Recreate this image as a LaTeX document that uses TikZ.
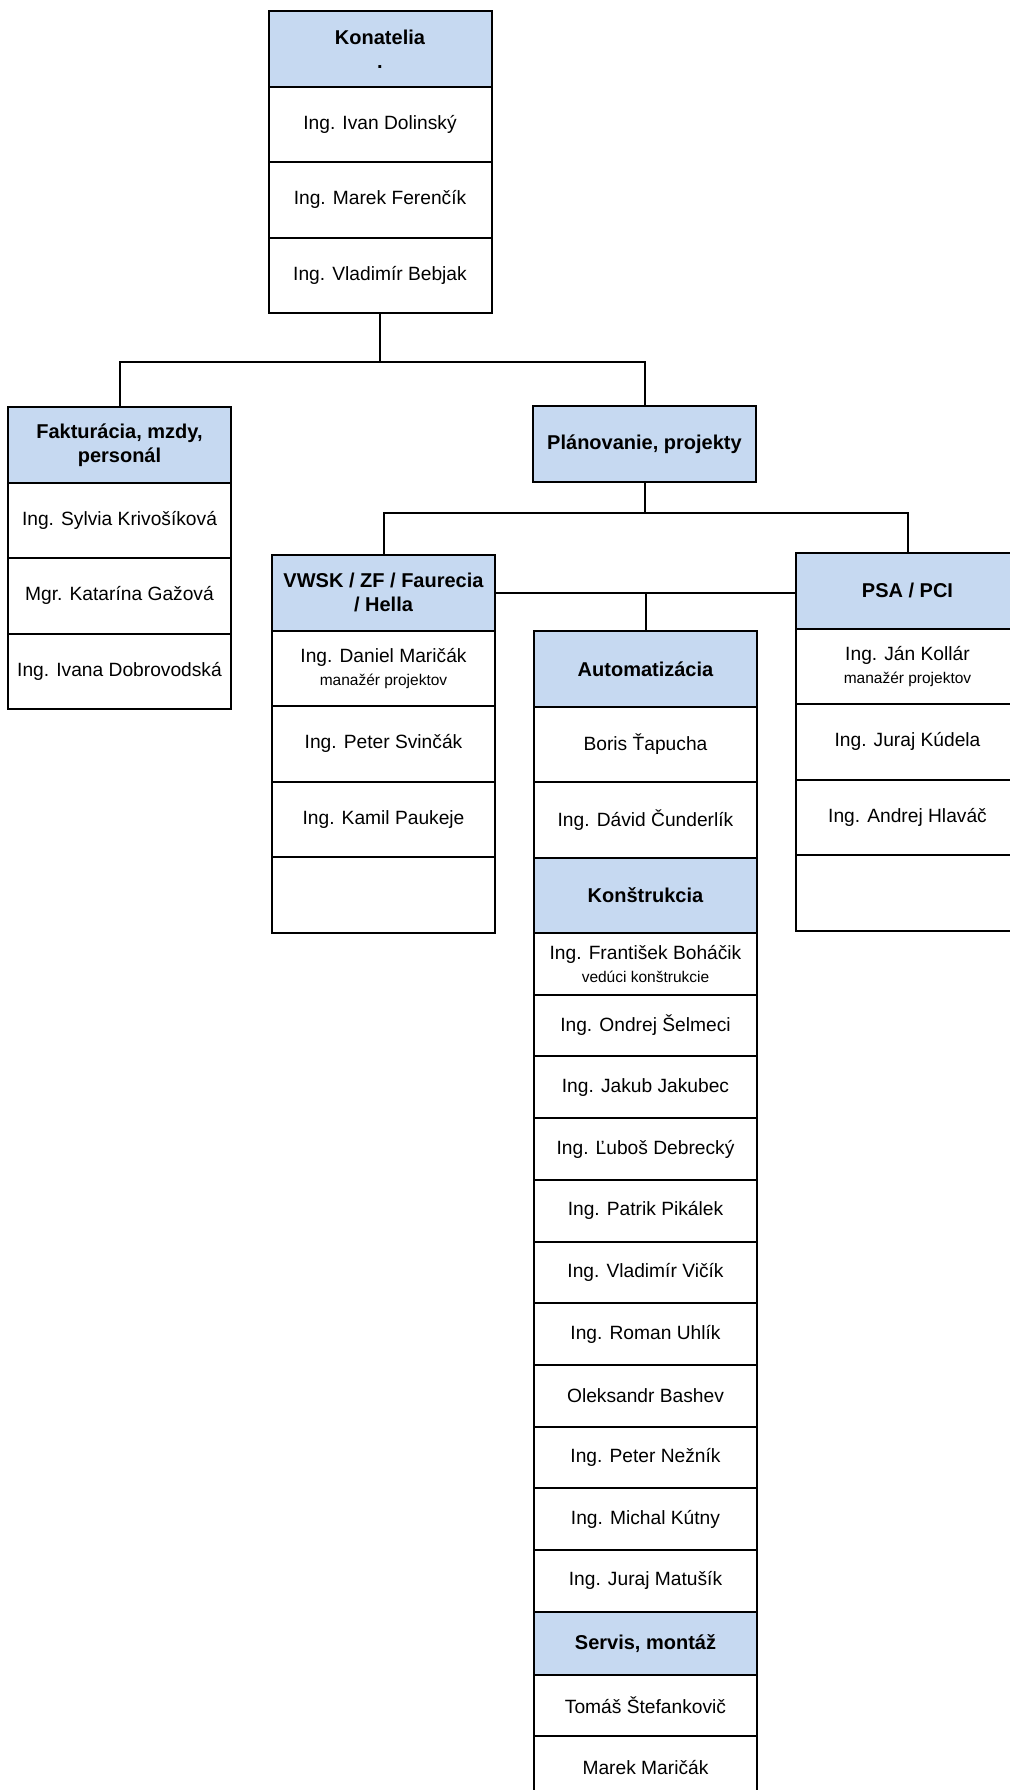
\documentclass[tikz,border=0pt]{standalone}
\usepackage{fontspec}
\setmainfont{Liberation Sans}
\usepackage{tikz}
\usetikzlibrary{positioning}
\definecolor{ChartBlue}{HTML}{C6D9F1}
\newcommand{\rolenote}[1]{{\fontsize{7.75}{9}\selectfont #1}}

\begin{document}
\begin{tikzpicture}[x=0.5pt, y=-0.5pt,
                    every node/.style={draw, line width=1pt, outer sep=0pt, inner sep=1pt,
                                       align=center, minimum width=111.5pt,
                                       font=\fontsize{9.6}{11.5}\selectfont},
                    deptbox/.style={fill=ChartBlue, minimum height=37.75pt,
                                    font=\fontsize{10}{12}\selectfont\bfseries},
                    membox/.style={minimum height=37.75pt},
                    subbox/.style={minimum height=30.85pt},
                    every path/.style={line width=1pt}]
\useasboundingbox (0,0) rectangle (1009,1790);

% konatelia
\node[deptbox, anchor=north] (kon) at (380,11) {Konatelia\\.};
\node[membox, below=0pt of kon] (kon1) {Ing. Ivan Dolinský};
\node[membox, below=0pt of kon1] (kon2) {Ing. Marek Ferenčík};
\node[membox, below=0pt of kon2] (kon3) {Ing. Vladimír Bebjak};

% second level
\node[deptbox, anchor=north] (fak) at (119.5,407) {Fakturácia, mzdy,\\personál};
\node[membox, below=0pt of fak] (fak1) {Ing. Sylvia Krivošíková};
\node[membox, below=0pt of fak1] (fak2) {Mgr. Katarína Gažová};
\node[membox, below=0pt of fak2] (fak3) {Ing. Ivana Dobrovodská};
\node[deptbox, anchor=north] (plan) at (644.5,406) {Plánovanie, projekty};

% projects
\node[deptbox, anchor=north] (vwsk) at (383.5,555) {VWSK / ZF / Faurecia\\/ Hella};
\node[membox, below=0pt of vwsk] (vwsk1) {Ing. Daniel Maričák\\\rolenote{manažér projektov}};
\node[membox, below=0pt of vwsk1] (vwsk2) {Ing. Peter Svinčák};
\node[membox, below=0pt of vwsk2] (vwsk3) {Ing. Kamil Paukeje};
\node[membox, below=0pt of vwsk3] (vwsk4) {};

\node[deptbox, anchor=north] (psa) at (907.5,553) {PSA / PCI};
\node[membox, below=0pt of psa] (psa1) {Ing. Ján Kollár\\\rolenote{manažér projektov}};
\node[membox, below=0pt of psa1] (psa2) {Ing. Juraj Kúdela};
\node[membox, below=0pt of psa2] (psa3) {Ing. Andrej Hlaváč};
\node[membox, below=0pt of psa3] (psa4) {};

% automatizacia, konstrukcia, servis
\node[deptbox, anchor=north] (auto) at (645.5,631) {Automatizácia};
\node[membox, below=0pt of auto] (auto1) {Boris Ťapucha};
\node[membox, below=0pt of auto1] (auto2) {Ing. Dávid Čunderlík};
\node[deptbox, below=0pt of auto2] (kons) {Konštrukcia};
\node[subbox, below=0pt of kons] (kons1) {Ing. František Boháčik\\\rolenote{vedúci konštrukcie}};
\node[subbox, below=0pt of kons1] (kons2) {Ing. Ondrej Šelmeci};
\node[subbox, below=0pt of kons2] (kons3) {Ing. Jakub Jakubec};
\node[subbox, below=0pt of kons3] (kons4) {Ing. Ľuboš Debrecký};
\node[subbox, below=0pt of kons4] (kons5) {Ing. Patrik Pikálek};
\node[subbox, below=0pt of kons5] (kons6) {Ing. Vladimír Vičík};
\node[subbox, below=0pt of kons6] (kons7) {Ing. Roman Uhlík};
\node[subbox, below=0pt of kons7] (kons8) {Oleksandr Bashev};
\node[subbox, below=0pt of kons8] (kons9) {Ing. Peter Nežník};
\node[subbox, below=0pt of kons9] (kons10) {Ing. Michal Kútny};
\node[subbox, below=0pt of kons10] (kons11) {Ing. Juraj Matušík};
\node[deptbox, minimum height=31.5pt, below=0pt of kons11] (serv) {Servis, montáž};
\node[subbox, below=0pt of serv] (serv1) {Tomáš Štefankovič};
\node[subbox, below=0pt of serv1] (serv2) {Marek Maričák};

% connectors
\coordinate (bus1) at (kon3.south |- 0,362);
\draw (kon3.south) -- (bus1);
\draw (fak.north) |- (bus1) -| (plan.north);
\coordinate (bus2) at (plan.south |- 0,513);
\draw (plan.south) -- (bus2);
\draw (vwsk.north) |- (bus2) -| (psa.north);
\draw (vwsk.east) -- (vwsk.east -| psa.west);
\draw (auto.north) -- (auto.north |- vwsk.east);
\end{tikzpicture}
\end{document}
